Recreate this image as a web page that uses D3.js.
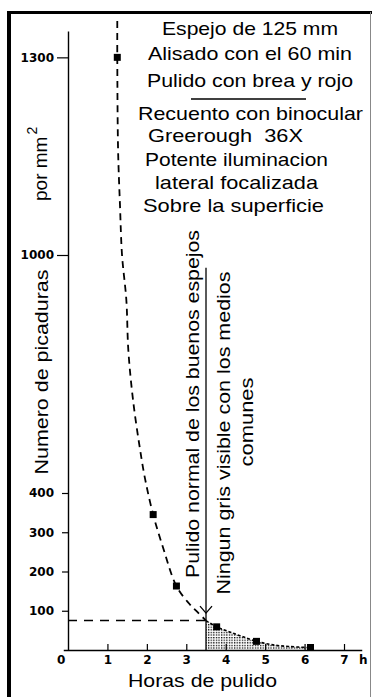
<!DOCTYPE html>
<html>
<head>
<meta charset="utf-8">
<script src="https://cdn.jsdelivr.net/npm/d3@7"></script>
<style>
  html, body { margin: 0; padding: 0; background: #fff; }
  svg { display: block; }
  .txt { font-family: "Liberation Sans", Arial, sans-serif; font-size: 19px; fill: #000; white-space: pre; }
  .tick text, .num { font-family: "DejaVu Sans", sans-serif; font-weight: bold; font-size: 12px; fill: #000; }
</style>
</head>
<body>
<div id="chart-container"></div>
<script>
// measured pit counts (hours of polishing, pits per mm2)
const hours = [1.25, 2.16, 2.75, 3.77, 4.78, 6.15];
const pits = [1300, 345, 163, 59, 22, 6];

// dashed trend curve as drawn in the figure
const curveHours = [1.25, 1.25, 1.27, 1.32, 1.37, 1.48, 1.53, 1.65, 1.83, 1.96, 2.16, 2.42, 2.75, 3.1, 3.28, 3.5];
const curvePits = [1355, 1300, 1160, 1073, 1000, 886, 760, 634, 508, 433, 345, 258, 163, 115, 97, 75];

// dotted tail over the shaded zone
const tailHours = [3.5, 3.77, 4.1, 4.4, 4.78, 5.2, 5.6, 6.15];
const tailPits = [75, 59, 46, 35, 22, 13, 9, 6];

// ticks
const xTicks = [1, 2, 3, 4, 5, 6, 7];
const yTicks = [100, 200, 300, 400, 1000, 1300];

// normal polishing marker
const normalHours = 3.5;
const normalLevel = 75;
const markerTop = 968;
const arrowAt = 94;

const noteLines = [
  'Espejo de 125 mm',
  'Alisado con el 60 min',
  'Pulido con brea y rojo',
  'Recuento con binocular',
  'Greerough  36X',
  'Potente iluminacion',
  'lateral focalizada',
  'Sobre la superficie'
];

drawChart();

function drawChart() {
  const width = 372;
  const height = 697;
  const pxPerHour = 39.43;
  const originX = 68;

  const svg = d3.select('#chart-container').append('svg')
      .attr('width', width)
      .attr('height', height);

  // stipple for the shaded zone
  const pat = svg.append('defs').append('pattern')
      .attr('id', 'stipple')
      .attr('width', 2.6)
      .attr('height', 2.6)
      .attr('patternUnits', 'userSpaceOnUse');
  pat.append('rect').attr('width', 1.3).attr('height', 1.3).attr('fill', '#000');

  // frame
  svg.append('line').attr('x1', 9).attr('x2', 9).attr('y1', 11).attr('y2', height)
      .attr('stroke', '#000').attr('stroke-width', 4);
  svg.append('line').attr('x1', 7).attr('x2', width).attr('y1', 12.5).attr('y2', 12.5)
      .attr('stroke', '#000').attr('stroke-width', 3);
  svg.append('line').attr('x1', 370.5).attr('x2', 370.5).attr('y1', 12).attr('y2', height)
      .attr('stroke', '#888').attr('stroke-width', 1);

  // scales (y axis is broken: upper part compressed differently)
  const x = d3.scaleLinear()
      .domain([-0.12, 7.45])
      .range([originX - 0.12 * pxPerHour, originX + 7.45 * pxPerHour]);
  const y = d3.scaleLinear()
      .domain([0, 400, 1000, 1340])
      .range([650, 493, 255, 31]);

  // shaded zone under the tail
  const tail = d3.zip(tailHours, tailPits);
  svg.append('path')
      .datum(tail)
      .attr('fill', 'url(#stipple)')
      .attr('d', d3.area()
        .x(d => x(d[0]))
        .y0(y(0))
        .y1(d => y(d[1]))
        .curve(d3.curveCatmullRom));

  // axes
  const xAxis = d3.axisBottom(x).tickValues(xTicks).tickSizeInner(-6).tickSizeOuter(0).tickPadding(5);
  const yAxis = d3.axisLeft(y).tickValues(yTicks).tickFormat(d3.format('d'))
      .tickSizeInner(6).tickSizeOuter(0).tickPadding(8);

  const gx = svg.append('g')
      .attr('transform', `translate(0, ${y(0)})`)
      .call(xAxis);
  const gy = svg.append('g')
      .attr('transform', `translate(${originX}, 0)`)
      .call(yAxis);

  [gx, gy].forEach(g => {
    g.select('.domain').attr('stroke', '#000').attr('stroke-width', 1.4);
    g.selectAll('.tick line').attr('stroke', '#000').attr('stroke-width', 1.2);
  });
  gy.selectAll('.tick').filter(d => d >= 1000).select('line').attr('x2', -11);
  gy.selectAll('.tick text').attr('x', -14);

  svg.append('text').attr('class', 'num')
      .attr('x', x(0) - 11).attr('y', y(0) + 13.5)
      .text('0');
  svg.append('text').attr('class', 'num')
      .attr('x', x(7.38)).attr('y', y(0) + 14)
      .text('h');

  // level of normal polishing
  svg.append('line')
      .attr('x1', x(0)).attr('x2', x(normalHours))
      .attr('y1', y(normalLevel)).attr('y2', y(normalLevel))
      .attr('stroke', '#000').attr('stroke-width', 1.5)
      .attr('stroke-dasharray', '9,7');

  svg.append('line')
      .attr('x1', x(normalHours)).attr('x2', x(normalHours))
      .attr('y1', y(markerTop)).attr('y2', y(0))
      .attr('stroke', '#000').attr('stroke-width', 1.3);
  const ax = x(normalHours);
  const ay = y(arrowAt);
  svg.append('path')
      .attr('d', `M${ax - 6},${ay - 7}L${ax},${ay}L${ax + 6},${ay - 7}`)
      .attr('fill', 'none').attr('stroke', '#000').attr('stroke-width', 1.3);

  // trend curve
  svg.append('path')
      .datum(d3.zip(curveHours, curvePits))
      .attr('fill', 'none')
      .attr('stroke', '#000')
      .attr('stroke-width', 1.8)
      .attr('stroke-dasharray', '7,5')
      .attr('d', d3.line()
        .x(d => x(d[0]))
        .y(d => y(d[1]))
        .curve(d3.curveCatmullRom));

  svg.append('path')
      .datum(tail)
      .attr('fill', 'none')
      .attr('stroke', '#000')
      .attr('stroke-width', 1.6)
      .attr('stroke-dasharray', '3,2')
      .attr('d', d3.line()
        .x(d => x(d[0]))
        .y(d => y(d[1]))
        .curve(d3.curveCatmullRom));

  // measured points
  const size = 7;
  svg.selectAll('.pt')
      .data(d3.zip(hours, pits))
      .join('rect')
      .attr('class', 'pt')
      .attr('x', d => x(d[0]) - size / 2)
      .attr('y', d => Math.min(y(d[1]) - size / 2, y(0) - size + 1))
      .attr('width', size)
      .attr('height', size)
      .attr('fill', '#000');

  // axis titles
  svg.append('text').attr('class', 'txt')
      .attr('x', 202.5).attr('y', 687)
      .attr('text-anchor', 'middle')
      .attr('textLength', 149).attr('lengthAdjust', 'spacingAndGlyphs')
      .text('Horas de pulido');

  svg.append('text').attr('class', 'txt')
      .attr('transform', 'translate(48, 372) rotate(-90)')
      .attr('text-anchor', 'middle')
      .attr('textLength', 205).attr('lengthAdjust', 'spacingAndGlyphs')
      .text('Numero de picaduras');

  const unit = svg.append('text').attr('class', 'txt')
      .attr('transform', 'translate(47, 201) rotate(-90)');
  unit.append('tspan').text('por mm');
  unit.append('tspan').attr('dy', -10).attr('dx', 2).style('font-size', '14px').text('2');

  // vertical notes beside the marker line
  const verticalNotes = [
    { text: 'Pulido normal de los buenos espejos', dx: -7, cy: 404, len: 348 },
    { text: 'Ningun gris visible con los medios', dx: 24, cy: 433, len: 323 },
    { text: 'comunes', dx: 47, cy: 422, len: 89 }
  ];
  verticalNotes.forEach(n => {
    svg.append('text').attr('class', 'txt')
        .attr('transform', `translate(${ax + n.dx}, ${n.cy}) rotate(-90)`)
        .attr('text-anchor', 'middle')
        .attr('textLength', n.len).attr('lengthAdjust', 'spacingAndGlyphs')
        .text(n.text);
  });

  // notes block, upper right
  const notePos = [
    [162, 35, 176], [148, 60, 204], [147, 87, 206],
    [138, 120, 225], [148, 142, 155], [145, 166, 183],
    [155, 189, 163], [143, 212, 181]
  ];
  noteLines.forEach((t, i) => {
    svg.append('text').attr('class', 'txt')
        .attr('x', notePos[i][0]).attr('y', notePos[i][1])
        .attr('textLength', notePos[i][2]).attr('lengthAdjust', 'spacingAndGlyphs')
        .text(t);
  });
  svg.append('line')
      .attr('x1', 191).attr('x2', 306).attr('y1', 99).attr('y2', 99)
      .attr('stroke', '#000').attr('stroke-width', 1.3);
}
</script>
</body>
</html>
